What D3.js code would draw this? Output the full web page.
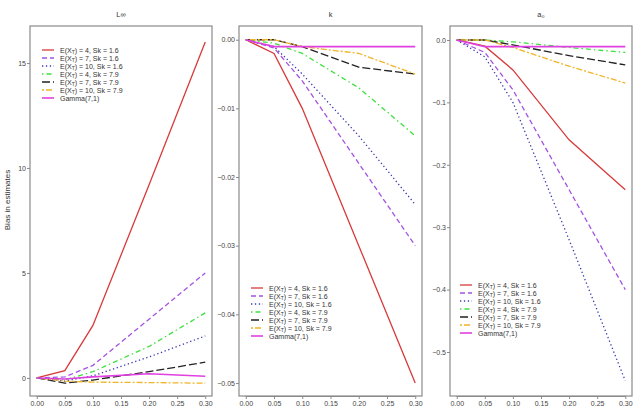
<!DOCTYPE html>
<html>
<head>
<meta charset="utf-8">
<script src="https://cdn.jsdelivr.net/npm/d3@7"></script>
<style>
  body { margin: 0; background: #fff; }
  svg text { font-family: "Liberation Sans", Arial, sans-serif; }
</style>
</head>
<body>
<svg id="chart" width="639" height="415"></svg>
<script>
// x values shared by every series
var pValues = [0, 0.05, 0.1, 0.2, 0.3];
var xTicks = [0, 0.05, 0.1, 0.15, 0.2, 0.25, 0.3];

var seriesNames = ["E(X_T) = 4, Sk = 1.6", "E(X_T) = 7, Sk = 1.6", "E(X_T) = 10, Sk = 1.6",
                   "E(X_T) = 4, Sk = 7.9", "E(X_T) = 7, Sk = 7.9", "E(X_T) = 10, Sk = 7.9", "Gamma(7,1)"];

// bias in L-infinity
var linfRed     = [0, 0.35, 2.5, 9.2, 16.0];
var linfPurple  = [0, 0.05, 0.6, 2.8, 5.0];
var linfBlue    = [0, -0.15, 0.1, 1.0, 2.0];
var linfGreen   = [0, -0.1, 0.3, 1.5, 3.1];
var linfBlack   = [0, -0.25, -0.1, 0.3, 0.75];
var linfOrange  = [0, -0.15, -0.2, -0.22, -0.25];
var linfMagenta = [0, -0.05, 0.05, 0.2, 0.08];

// bias in k
var kRed     = [0, -0.002, -0.010, -0.030, -0.050];
var kPurple  = [0, -0.0012, -0.006, -0.018, -0.030];
var kBlue    = [0, -0.001, -0.005, -0.014, -0.024];
var kGreen   = [0, -0.0005, -0.002, -0.007, -0.014];
var kBlack   = [0, 0, -0.001, -0.004, -0.005];
var kOrange  = [0, 0, -0.001, -0.002, -0.005];
var kMagenta = [0, -0.001, -0.001, -0.001, -0.001];

// bias in a0
var aRed     = [0, -0.01, -0.048, -0.16, -0.24];
var aPurple  = [0, -0.02, -0.08, -0.24, -0.40];
var aBlue    = [0, -0.027, -0.10, -0.32, -0.546];
var aGreen   = [0, 0, -0.003, -0.012, -0.02];
var aBlack   = [0, 0, -0.008, -0.025, -0.04];
var aOrange  = [0, 0, -0.012, -0.042, -0.069];
var aMagenta = [0, -0.0107, -0.0107, -0.0107, -0.0107];

var linfTicks = [0, 5, 10, 15];
var kTicks = [0, -0.01, -0.02, -0.03, -0.04, -0.05];
var aTicks = [0, -0.1, -0.2, -0.3, -0.4, -0.5];

var colors = ["#d83a3a", "#a452e0", "#3b3bb0", "#3ee03e", "#222222", "#f0b428", "#e040e0"];
var dashes = ["none", "5,3", "1.3,2.6", "1.5,3,5,3", "8,3", "2,2,6,2", "none"];

var svg = d3.select("#chart");

var panels = [
  {title: "L\u221E", left: 30, right: 212, domain: [-0.86, 16.76], ticks: linfTicks, fmt: d3.format("d"),
   series: [linfRed, linfPurple, linfBlue, linfGreen, linfBlack, linfOrange, linfMagenta],
   legend: {x: 42, y: 50}},
  {title: "k", left: 239, right: 422, domain: [-0.0519, 0.0020], ticks: kTicks, fmt: d3.format(".2f"),
   series: [kRed, kPurple, kBlue, kGreen, kBlack, kOrange, kMagenta],
   legend: {x: 251, y: 288}},
  {title: "a\u2080", left: 450, right: 632, domain: [-0.5705, 0.0224], ticks: aTicks, fmt: d3.format(".1f"),
   series: [aRed, aPurple, aBlue, aGreen, aBlack, aOrange, aMagenta],
   legend: {x: 460, y: 285}}
];

var plotTop = 26, plotBottom = 396;

panels.forEach(function(p) {
  var x = d3.scaleLinear().domain([-0.012, 0.312]).range([p.left, p.right]);
  var y = d3.scaleLinear().domain(p.domain).range([plotBottom, plotTop]);

  var g = svg.append("g");

  g.append("rect")
      .attr("x", p.left).attr("y", plotTop)
      .attr("width", p.right - p.left).attr("height", plotBottom - plotTop)
      .attr("fill", "none").attr("stroke", "#8a8a8a").attr("stroke-width", 1.2);

  // y axis
  var ya = g.append("g")
      .attr("transform", "translate(" + p.left + ",0)")
      .call(d3.axisLeft(y).tickValues(p.ticks).tickFormat(p.fmt).tickSize(3).tickPadding(1));
  ya.select(".domain").remove();

  // x axis
  var xa = g.append("g")
      .attr("transform", "translate(0," + plotBottom + ")")
      .call(d3.axisBottom(x).tickValues(xTicks).tickFormat(d3.format(".2f")).tickSize(3).tickPadding(2));
  xa.select(".domain").attr("d", "M" + x(0) + ",0.5H" + x(0.3)).attr("stroke", "#8a8a8a");

  [ya, xa].forEach(function(a) {
    a.selectAll("line").attr("stroke", "#8a8a8a");
    a.selectAll("text").attr("fill", "#444").attr("font-size", 7).attr("font-family", "Liberation Sans, Arial, sans-serif");
  });

  g.append("text")
      .attr("x", (p.left + p.right) / 2).attr("y", 17)
      .attr("text-anchor", "middle").attr("font-size", 7.5).attr("fill", "#333")
      .text(p.title);

  var line = d3.line()
      .x(function(d, i) { return x(pValues[i]); })
      .y(function(d) { return y(d); });

  p.series.forEach(function(s, i) {
    g.append("path")
        .datum(s)
        .attr("d", line)
        .attr("fill", "none")
        .attr("stroke", colors[i])
        .attr("stroke-width", i === 6 ? 1.6 : 1.3)
        .attr("stroke-dasharray", dashes[i]);
  });

  // legend
  var lg = g.append("g").attr("transform", "translate(" + p.legend.x + "," + p.legend.y + ")");
  seriesNames.forEach(function(name, i) {
    var row = lg.append("g").attr("transform", "translate(0," + (i * 8) + ")");
    row.append("line")
        .attr("x1", 0).attr("x2", 12).attr("y1", 0).attr("y2", 0)
        .attr("stroke", colors[i]).attr("stroke-width", i === 6 ? 1.6 : 1.3)
        .attr("stroke-dasharray", dashes[i]);
    var t = row.append("text").attr("x", 18).attr("y", 2.6)
        .attr("font-size", 7).attr("fill", "#333");
    if (name.indexOf("X_T") >= 0) {
      var parts = name.split("X_T");
      t.append("tspan").text(parts[0] + "X");
      t.append("tspan").attr("font-size", 5).attr("dy", 1.5).text("T");
      t.append("tspan").attr("dy", -1.5).text(parts[1]);
    } else {
      t.text(name);
    }
  });
});

// shared labels
svg.append("text")
    .attr("transform", "translate(10,200) rotate(-90)")
    .attr("text-anchor", "middle").attr("font-size", 8).attr("fill", "#333")
    .text("Bias in estimates");

svg.append("text")
    .attr("x", 321).attr("y", 421)
    .attr("text-anchor", "middle").attr("font-size", 8).attr("fill", "#333")
    .text("\u03C0");
</script>
</body>
</html>
